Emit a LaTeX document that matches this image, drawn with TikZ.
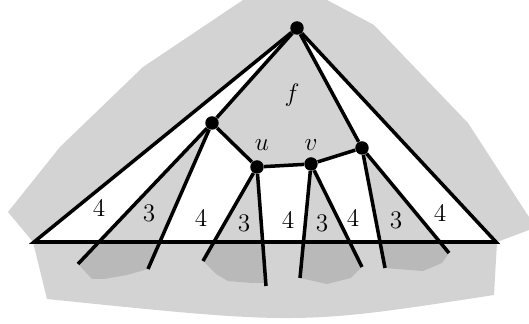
\documentclass[tikz,border=0pt]{standalone}
\usepackage{amsmath}
\usepackage{tikz}
\usetikzlibrary{backgrounds}
\definecolor{facegray}{RGB}{211,211,211}
\definecolor{blobgray}{RGB}{185,185,185}
\tikzset{
    dot/.style={circle,fill=black,inner sep=0pt,minimum size=0.27cm},% 黑点
    edge/.style={line width=2pt,line join=miter},
    lab/.style={font=\fontsize{13.5}{16}\selectfont,inner sep=1pt}
}
\begin{document}
\begin{tikzpicture}[x=0.02cm,y=-0.02cm]
        \useasboundingbox (0,0) rectangle (529,324);
        \node[dot] (T) at (297,28) {};%顶点
        \node[dot] (A) at (212,123) {};
        \node[dot] (U) at (257,167) {};
        \node[dot] (V) at (311,164) {};
        \node[dot] (B) at (362,148) {};
        \coordinate (L) at (34,242);
        \coordinate (R) at (496,242);
        \coordinate (a1) at (78,264);
        \coordinate (a2) at (148,269);
        \coordinate (u1) at (203,261);
        \coordinate (u2) at (266,286);
        \coordinate (v1) at (300,278);
        \coordinate (v2) at (362,267);
        \coordinate (b1) at (385,268);
        \coordinate (b2) at (449,253);
        %与底边的交点
        \coordinate (xa1) at (intersection of A.center--a1 and L--R);
        \coordinate (xa2) at (intersection of A.center--a2 and L--R);
        \coordinate (xu1) at (intersection of U.center--u1 and L--R);
        \coordinate (xu2) at (intersection of U.center--u2 and L--R);
        \coordinate (xv1) at (intersection of V.center--v1 and L--R);
        \coordinate (xv2) at (intersection of V.center--v2 and L--R);
        \coordinate (xb1) at (intersection of B.center--b1 and L--R);
        \coordinate (xb2) at (intersection of B.center--b2 and L--R);
        \begin{scope}[on background layer]
        \fill[facegray] (33,242)--(8,212)--(60,147)--(143,67)--(243,0)--(327,0)--(374,25)--(468,123)
            --(529,217)--(529,230)--(497,242)--(494,295) .. controls (300,325) .. (47,299)--cycle;
        \fill[white] (T.center)--(L)--(xa1)--(A.center)--cycle;
        \fill[white] (A.center)--(xa2)--(xu1)--(U.center)--cycle;
        \fill[white] (U.center)--(xu2)--(xv1)--(V.center)--cycle;
        \fill[white] (V.center)--(xv2)--(xb1)--(B.center)--cycle;
        \fill[white] (B.center)--(xb2)--(R)--(T.center)--cycle;
        \fill[blobgray] (xa1)--(a1)--(92,279)--(104,279)--(127,275)--(a2)--(xa2)--cycle;%深灰区域
        \fill[blobgray] (xu1)--(u1)--(216,274)--(228,281)--(252,283)--(266,283)--(xu2)--cycle;
        \fill[blobgray] (xv1)--(v1)--(327,284)--(351,278)--(v2)--(xv2)--cycle;
        \fill[blobgray] (xb1)--(b1)--(423,271)--(442,263)--(b2)--(xb2)--cycle;
        \end{scope}
        \draw[edge] (T)--(L)--(R)--(T);
        \draw[edge] (T)--(A);
        \draw[edge] (T)--(B);
        \draw[edge] (A)--(U)--(V)--(B);
        \foreach \p/\c in {A/a1,A/a2,U/u1,U/u2,V/v1,V/v2,B/b1,B/b2}
        {
            \draw[edge] (\p)--(\c);
        }
        \foreach \x/\y/\t [count=\i] in {99/208/4,149/213/3,201/218/4,244/223/3,288/220/4,322/223/3,353/218/4,396/220/3,440/213/4}
        {
            \node[lab] (n\i) at (\x,\y) {$\t$};
        }
        \node[lab] (f) at (292,95) {$f$};
        \node[lab] (u) at (262,145) {$u$};
        \node[lab] (v) at (311,145) {$v$};
        \end{tikzpicture}
\end{document}
